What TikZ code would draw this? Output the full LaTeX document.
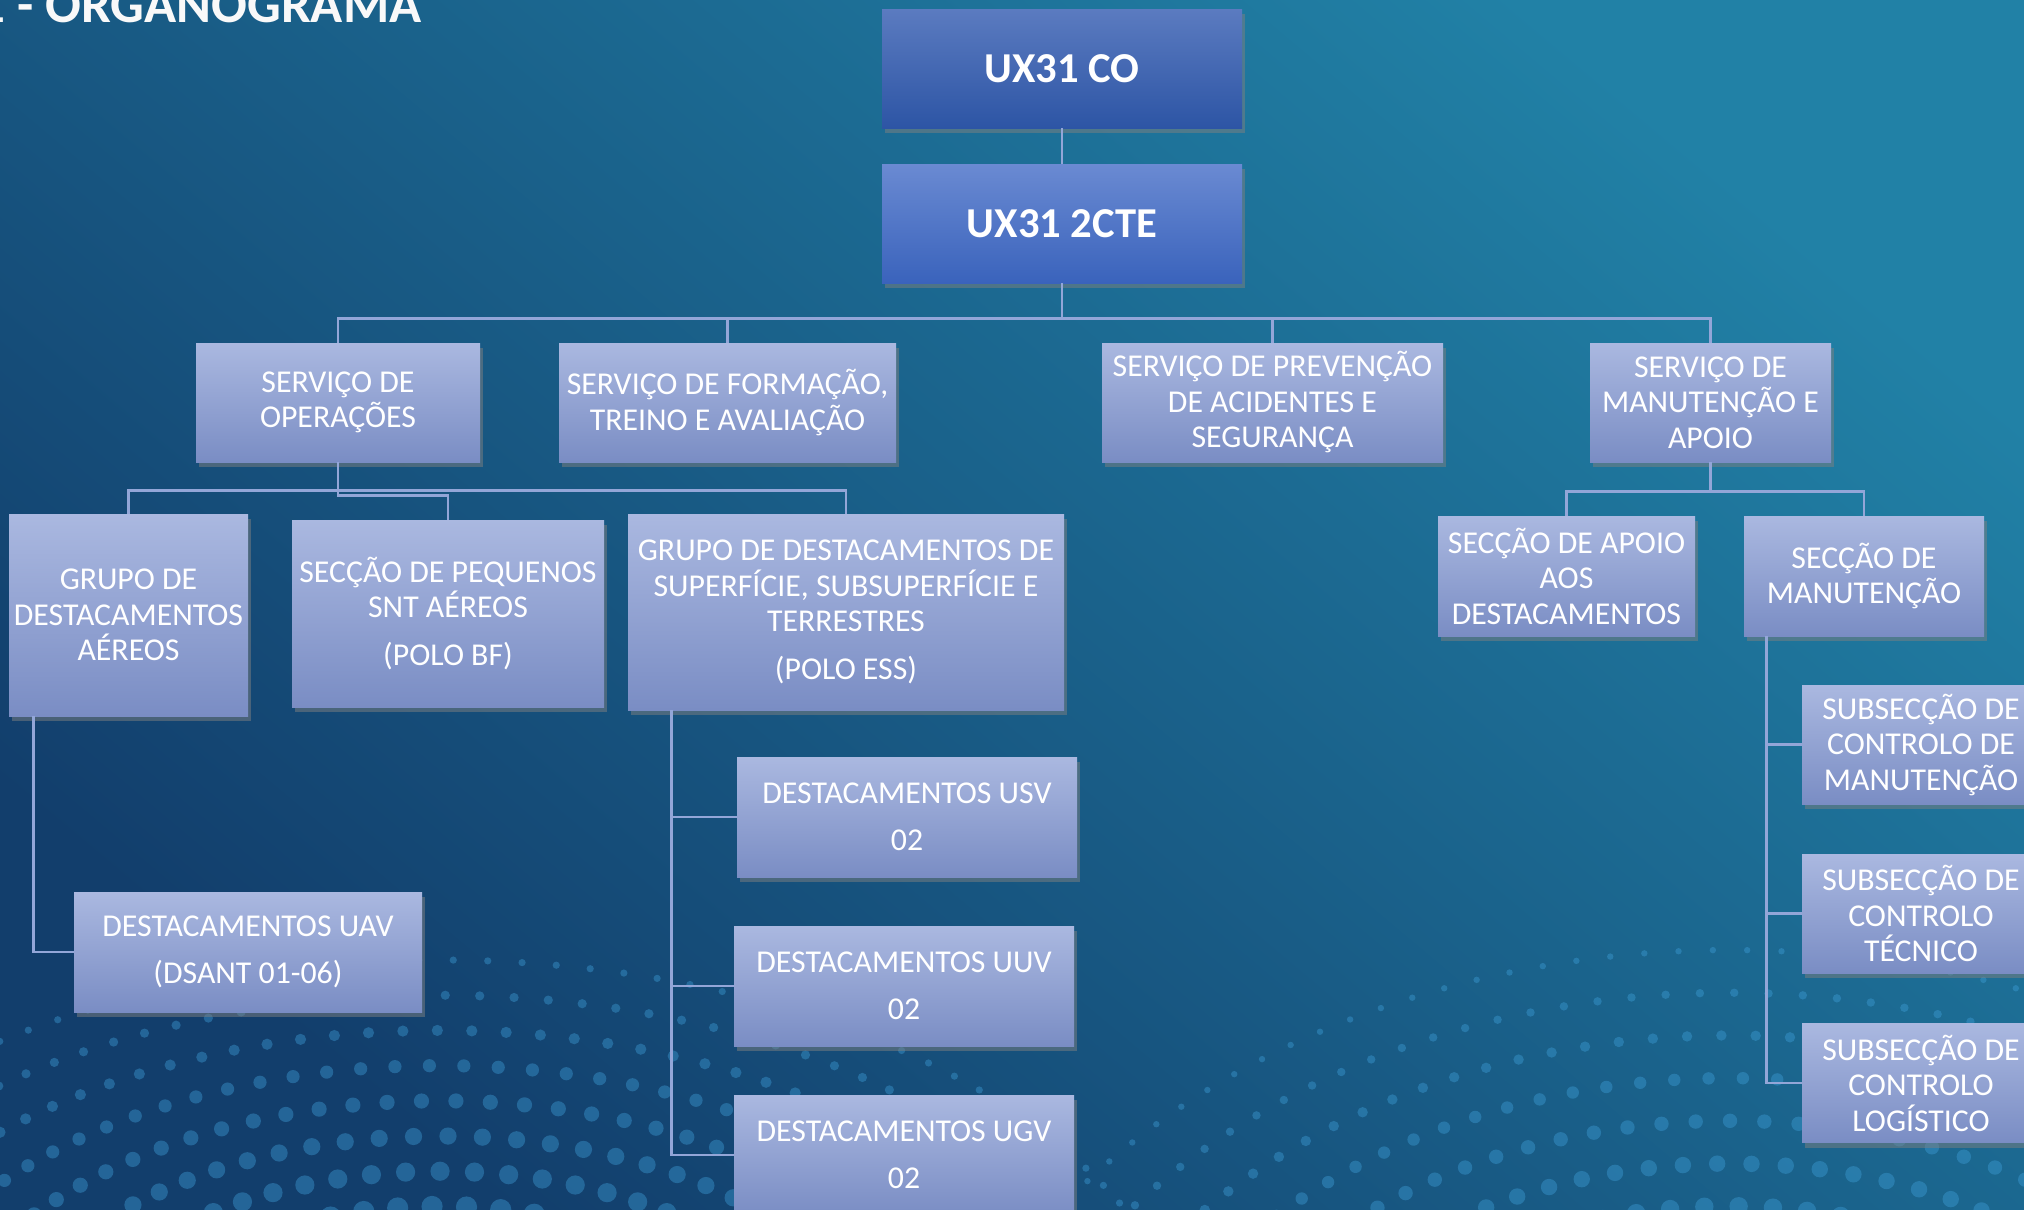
\documentclass[tikz,border=0pt]{standalone}
\usepackage{fontspec}
\setmainfont{Carlito}
\usetikzlibrary{shadows}
\definecolor{bgtop}{HTML}{2181A6}
\definecolor{bgbot}{HTML}{123E6C}
\definecolor{cotop}{HTML}{5B7BC0}
\definecolor{cobot}{HTML}{2D55A5}
\definecolor{ctetop}{HTML}{6A8AD2}
\definecolor{ctebot}{HTML}{3A63BC}
\definecolor{boxtop}{HTML}{AAB8E0}
\definecolor{boxbot}{HTML}{7A8DC4}
\definecolor{linkcol}{HTML}{93A6D8}
\definecolor{dotcol}{HTML}{3FA0DA}

\begin{document}
\begin{tikzpicture}[x=0.5pt,y=-0.5pt,
  boxsize/.style 2 args={minimum width=#1pt, minimum height=#2pt},
  unit/.style={rectangle, text=white, boxsize={180}{59.5},
    font=\fontsize{21.3}{24}\selectfont\bfseries,
    drop shadow={shadow xshift=1.5pt, shadow yshift=-2.5pt, opacity=.5}},
  svc/.style={rectangle, top color=boxtop, bottom color=boxbot, text=white,
    align=center, inner sep=1pt, font=\fontsize{15.9}{17.75}\selectfont,
    drop shadow={shadow xshift=1.5pt, shadow yshift=-2.5pt, opacity=.5}},
  link/.style={draw=linkcol, line width=1.3pt},
  dots/.style={fill=dotcol, opacity=.4}
  ]
  \useasboundingbox (0,0) rectangle (2024,1210);
  \clip (0,0) rectangle (2024,1210);
  \fill[top color=bgtop, bottom color=bgbot, shading angle=-40] (0,0) rectangle (2024,1210);

  \foreach \sc/\dr [evaluate=\sc as \nx using {180+2.6/\sc}] in {1/1.8,.92/2.3,.84/2.8,.76/3.3,.68/3.8,.6/4.3,.52/4.8,.44/5.3}
    \foreach \a in {180,\nx,...,360}
      \fill[dots] ({440+760*\sc*cos(\a)},{1400+440*\sc*sin(\a)}) circle (\dr pt);
  \foreach \sc/\dr [evaluate=\sc as \nx using {180+2.4/\sc}] in {1/1.6,.93/2.1,.86/2.6,.79/3.1,.72/3.6,.65/4.1,.58/4.6,.51/5.1}
    \foreach \a in {180,\nx,...,360}
      \fill[dots] ({1730+820*\sc*cos(\a)},{1560+610*\sc*sin(\a)}) circle (\dr pt);

  \node[anchor=base west, inner sep=0, text=white!95!gray,
    font=\fontsize{26.5}{30}\selectfont\bfseries] (title) at (-22,22) {1 - ORGANOGRAMA};

  \node[unit, top color=cotop, bottom color=cobot] (co) at (1062,68.5) {UX31 CO};
  \node[unit, top color=ctetop, bottom color=ctebot] (cte) at (1062,223.5) {UX31 2CTE};

  \node[svc, boxsize={142}{59.5}] (ops) at (338,402.5) {SERVIÇO DE\\OPERAÇÕES};
  \node[svc, boxsize={168.5}{59.5}] (form) at (727.5,402.5) {SERVIÇO DE FORMAÇÃO,\\TREINO E AVALIAÇÃO};
  \node[svc, boxsize={170.5}{59.5}] (prev) at (1272.5,402.5) {SERVIÇO DE PREVENÇÃO\\DE ACIDENTES E\\SEGURANÇA};
  \node[svc, boxsize={120.5}{59.5}] (mnt) at (1710.5,402.5) {SERVIÇO DE\\MANUTENÇÃO E\\APOIO};

  \node[svc, boxsize={119.5}{101}] (gda) at (128.5,615) {GRUPO DE\\DESTACAMENTOS\\AÉREOS};
  \node[svc, boxsize={156}{93.5}] (snt) at (448,613.5) {SECÇÃO DE PEQUENOS\\SNT AÉREOS\\[6pt](POLO BF)};
  \node[svc, boxsize={218}{98}] (gdss) at (846,612) {GRUPO DE DESTACAMENTOS DE\\SUPERFÍCIE, SUBSUPERFÍCIE E\\TERRESTRES\\[6pt](POLO ESS)};

  \node[svc, boxsize={174}{60}] (uav) at (248,952) {DESTACAMENTOS UAV\\[6pt](DSANT 01-06)};
  \node[svc, boxsize={170}{60}] (usv) at (907,817) {DESTACAMENTOS USV\\[6pt]02};
  \node[svc, boxsize={170}{60}] (uuv) at (904,986) {DESTACAMENTOS UUV\\[6pt]02};
  \node[svc, boxsize={170}{60}] (ugv) at (904,1155) {DESTACAMENTOS UGV\\[6pt]02};

  \node[svc, boxsize={128.5}{60}] (sad) at (1566.5,576) {SECÇÃO DE APOIO\\AOS\\DESTACAMENTOS};
  \node[svc, boxsize={120}{60}] (sman) at (1864,576) {SECÇÃO DE\\MANUTENÇÃO};

  \node[svc, boxsize={119}{59.5}] (scm) at (1921,744.5) {SUBSECÇÃO DE\\CONTROLO DE\\MANUTENÇÃO};
  \node[svc, boxsize={119}{59.5}] (sct) at (1921,913.5) {SUBSECÇÃO DE\\CONTROLO\\TÉCNICO};
  \node[svc, boxsize={119}{59.5}] (scl) at (1921,1083) {SUBSECÇÃO DE\\CONTROLO\\LOGÍSTICO};

  \draw[link] (co) -- (cte);
  \foreach \n in {ops,form,prev,mnt}
    \draw[link] (cte.south) -- ++(0,35) -| (\n.north);
  \foreach \n in {gda,gdss}
    \draw[link] (ops.south) -- ++(0,28) -| (\n.north);
  \draw[link] (ops.south) -- ++(0,33) -| (snt.north);
  \draw[link] (gda.south west) ++(25,0) |- (uav.west);
  \foreach \n in {usv,uuv,ugv}
    \draw[link] (gdss.south west) ++(44,0) |- (\n.west);
  \foreach \n in {sad,sman}
    \draw[link] (mnt.south) -- ++(0,29) -| (\n.north);
  \foreach \n in {scm,sct,scl}
    \draw[link] (sman.south west) ++(23,0) |- (\n.west);
\end{tikzpicture}
\end{document}
